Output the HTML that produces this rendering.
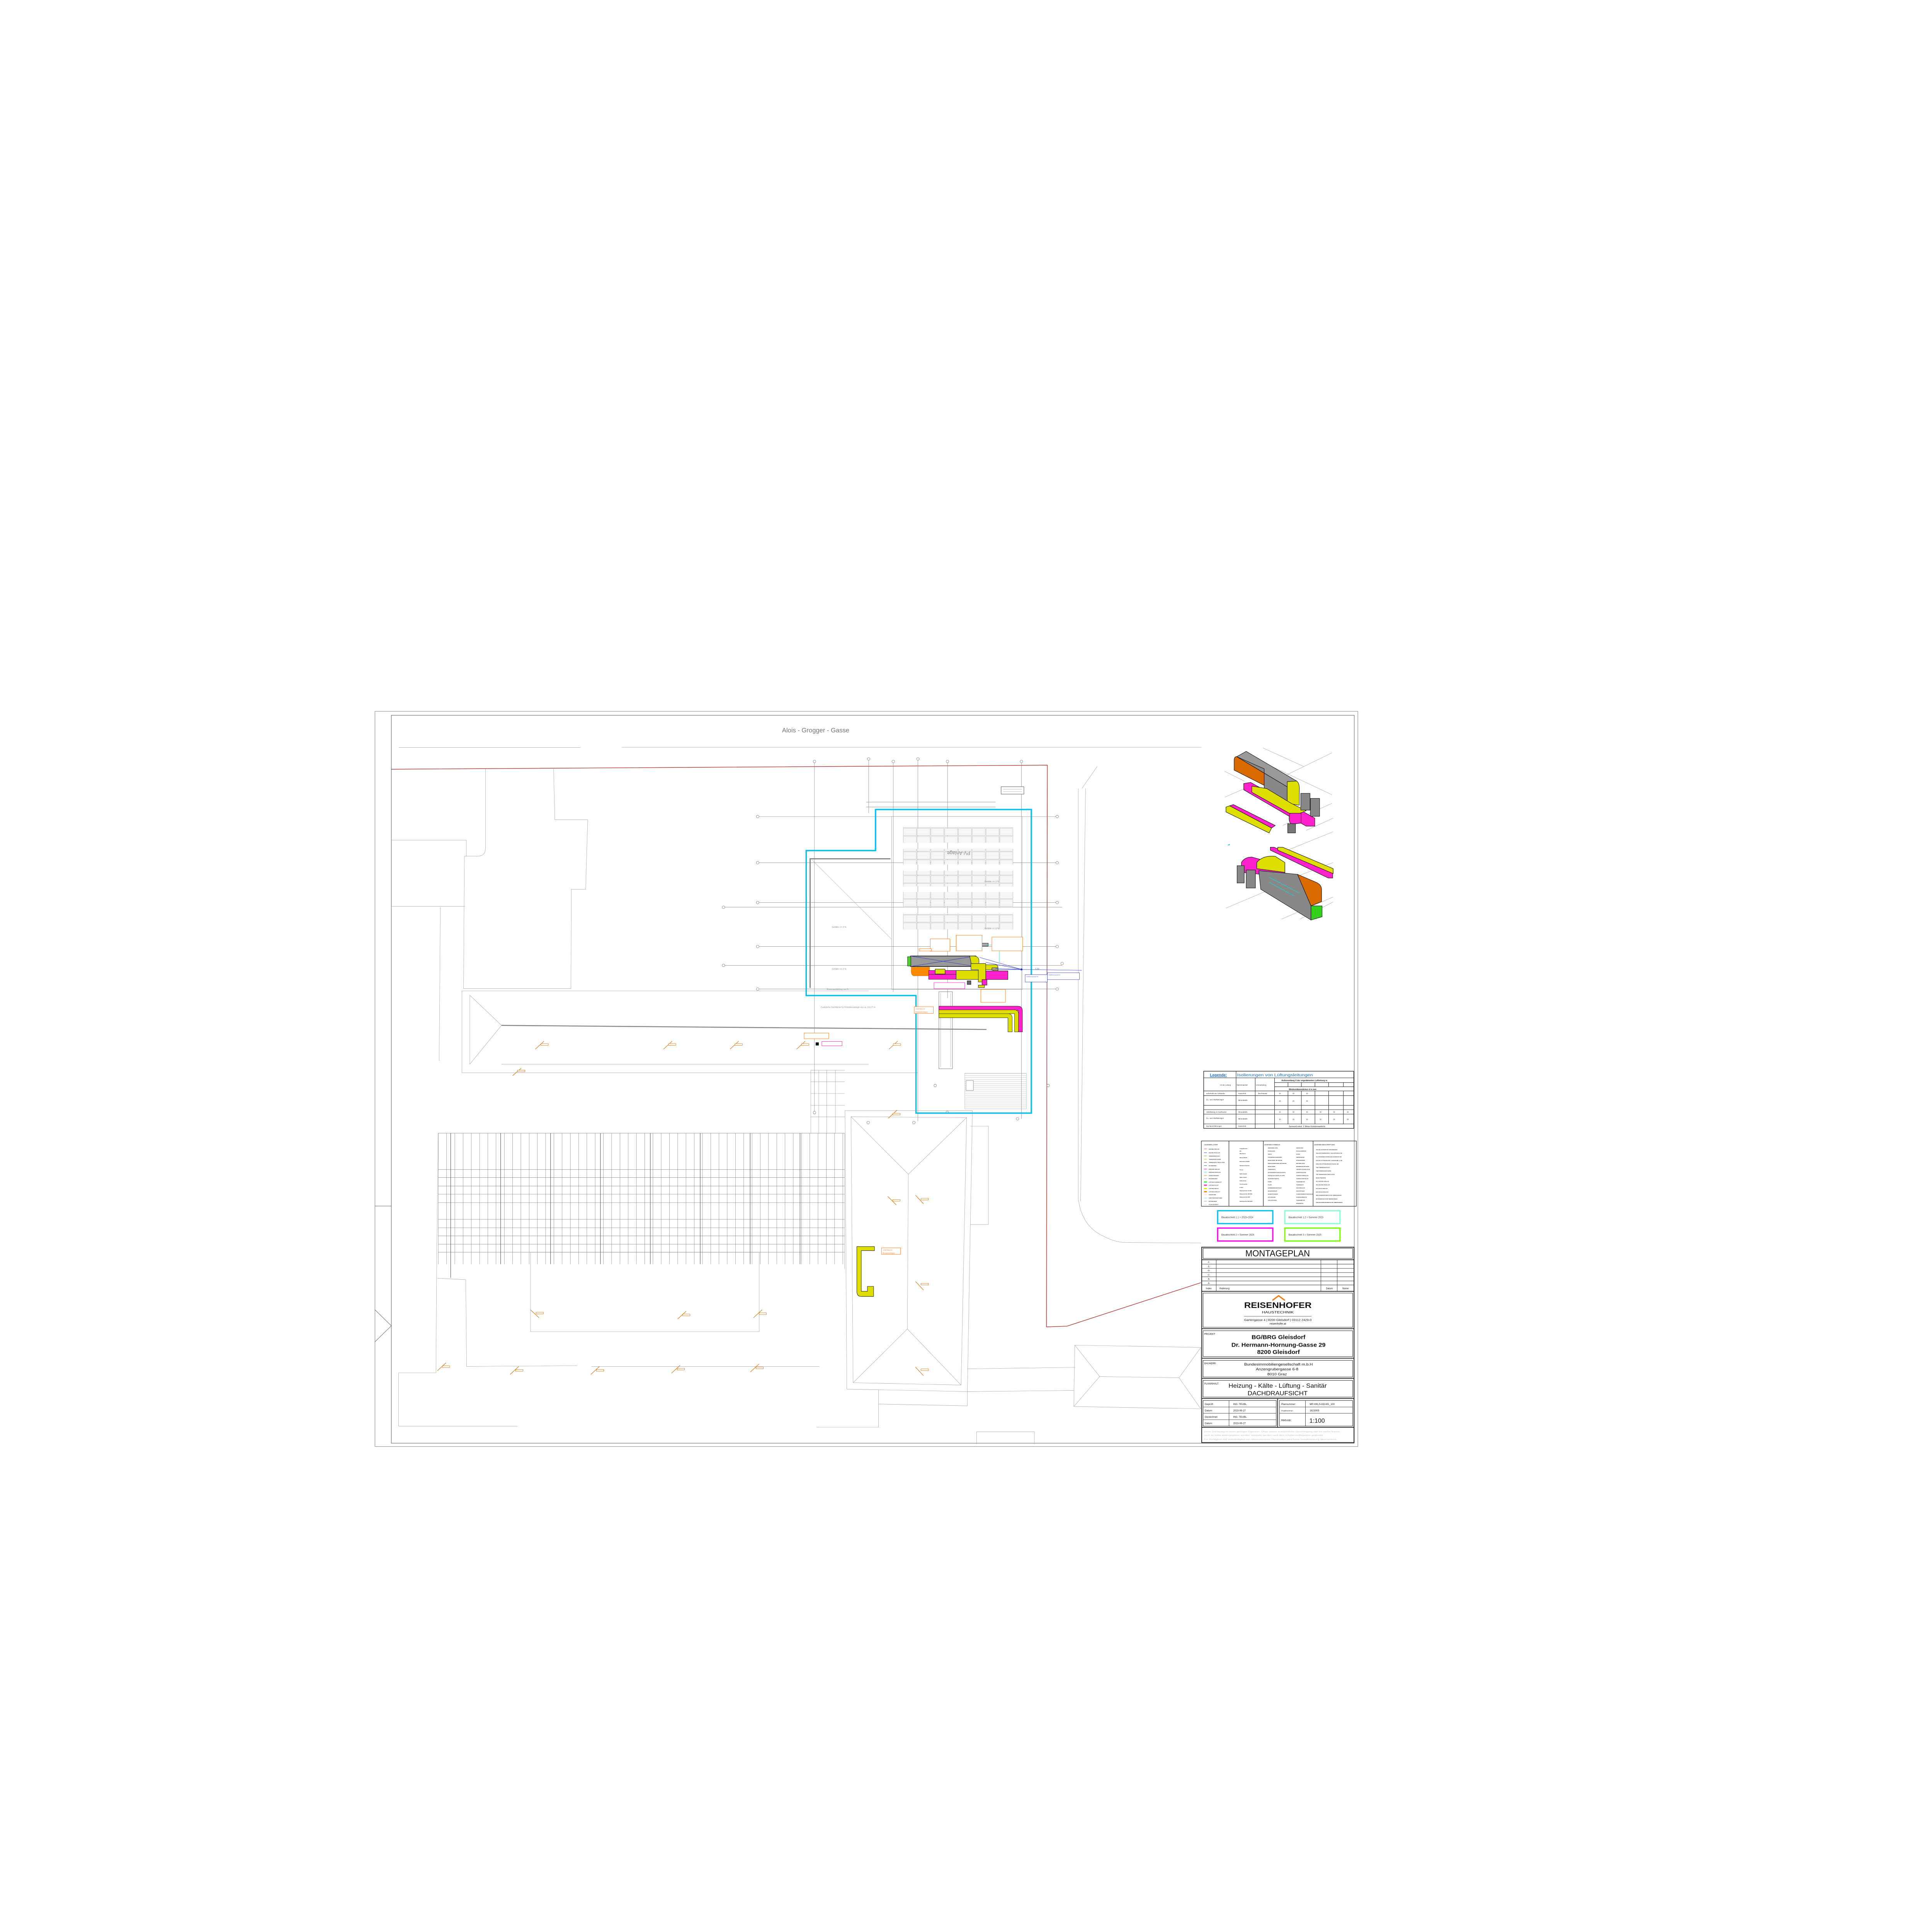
<!DOCTYPE html>
<html><head><meta charset="utf-8"><style>
html,body{margin:0;padding:0;background:#fff;overflow:hidden;width:100vw;height:100vh}
svg{display:block;position:fixed;left:0;top:0;width:100vw;height:100vh}
text{font-family:"Liberation Sans",sans-serif}
</style></head><body>
<svg viewBox="0 0 1568 1568" preserveAspectRatio="none" xmlns="http://www.w3.org/2000/svg">
<defs>
<pattern id="pv" x="732.8" y="0" width="11.19" height="6.4" patternUnits="userSpaceOnUse">
<rect x="0.3" y="0.3" width="10.6" height="5.8" fill="#fff" stroke="#999" stroke-width="0.18"/>
<path d="M0.3 1.3H10.9M0.3 2.3H10.9M0.3 3.3H10.9M0.3 4.3H10.9M0.3 5.3H10.9" stroke="#bbb" stroke-width="0.12"/>
</pattern>
<pattern id="gridv" x="355.6" y="0" width="6.7" height="10" patternUnits="userSpaceOnUse">
<path d="M0.1 0V10" stroke="#777" stroke-width="0.22"/>
</pattern>
<pattern id="stripes" x="0" y="871" width="10" height="1.6" patternUnits="userSpaceOnUse">
<path d="M0 0.2H10" stroke="#aaa" stroke-width="0.15"/>
</pattern>
</defs>
<rect width="1568" height="1568" fill="#fff"/>
<rect x="304.3" y="577.3" width="797.7" height="596.7" fill="none" stroke="#888" stroke-width="0.35"/>
<rect x="317.6" y="580.5" width="781.5" height="590.8" fill="none" stroke="#444" stroke-width="0.3"/>
<path d="M304.3 978.8H317.6M304.3 1063L317.6 1076L304.3 1089" fill="none" stroke="#444" stroke-width="0.25"/>

<text x="662" y="594.5" font-size="5.2" fill="#777" text-anchor="middle">Alois - Grogger - Gasse</text>

<g fill="none" stroke="#999" stroke-width="0.22">
<path d="M323.5 606.7H471M504.5 606.5H975"/>
<path d="M394 624V688.4Q394 694.9 387.7 694.9H376.9L376.2 802.3H463.4L463.7 721.7H475.3L477 665.3H450.3L449.3 624"/>
<path d="M317.9 681.8H378.5V694.9"/>
<path d="M357.4 736.3L356.4 861M317.9 735.5H377.4"/>
<path d="M374.9 804.2H705M374.9 804.2V870.6H745"/>
<path d="M381.3 807.7L407 832.2L381.3 863.7Z"/>
<path d="M407 863.7H705"/>
<path d="M430.6 1016.3H616.2V1080.8H430.6Z"/>
<path d="M354.9 1037.4L378 1038.6L378.7 1109L468.6 1108.4M354.3 1037.4L353.8 1114.2H323.5V1157.5M355.6 919.7L354.3 1037.4"/>
<path d="M480 1109H665M323.5 1157.5H420M685.5 919.7V1030"/>
<path d="M685.8 901.3L789.2 901.4L785.1 1129.4L687.3 1127.4Z"/>
<path d="M690.7 906.3L784.5 907L780 1124.1L692.4 1122.2Z"/>
<path d="M690.7 906.3L737.2 953L784.5 907M737.2 953L736.4 1078.6M692.4 1122.2L736.4 1078.6L780 1124.1"/>
<path d="M713 1128V1158.3H662.8M713 1139.5L785.1 1141V1129.4"/>
<path d="M787.5 914H802.2V993.8H787.5"/>
<path d="M785.1 1111L872.3 1109.7M785.1 1129.4L871.5 1128.5"/>
<path d="M872.3 1091.7L974.6 1093.6V1143.4L871.5 1141.5Z"/>
<path d="M872.3 1091.7L892.5 1117.2L871.5 1141.5M892.5 1117.2L956.9 1118.2L974.6 1093.6M956.9 1118.2L974.6 1143.4"/>
<path d="M792.6 1172V1162H839.5V1172"/>
<path d="M875.2 640V973.2Q878 995 895 1003Q905 1008.4 913.5 1008.4L974.6 1008.8M878 640L890.5 622"/>
<path d="M881 640L877 975"/>
<path d="M658 868.6H685.5M658 878H685.5M658 887.5H685.5M658 897H685.5M658 906.5H685.5M658 868.6V919.7M664.5 868.6V919.7M671 868.6V919.7M678 868.6V919.7"/>
</g>
<rect x="355.6" y="919.7" width="329.9" height="106.3" fill="url(#gridv)"/>
<g stroke="#777" stroke-width="0.22">
<path d="M355.6 919.7H685.5M355.6 949.2H685.5M355.6 955.7H685.5M355.6 962.6H685.5M355.6 969.2H685.5M355.6 976.1H685.5M355.6 989.5H685.5M355.6 996.4H685.5M355.6 1003H685.5M355.6 1009.8H685.5M355.6 1016.3H685.5"/>
</g>
<g stroke="#555" stroke-width="0.35">
<path d="M365.8 919.7V1037M406.3 919.7V1026M446.8 919.7V1026M487.3 919.7V1026M527.8 919.7V1026M568.3 919.7V1026M608.8 919.7V1026M649.3 919.7V1026"/>
</g>

<path d="M317.6 624.3L850 621L849.3 1076.9L866 1076.3L974.6 1041" fill="none" stroke="#b03030" stroke-width="0.45"/>

<g fill="none" stroke="#777" stroke-width="0.22">
<path d="M614.9 662.7H858M614.9 700.2H858M614.9 732.5H858M614.9 768.2H858M614.9 802.7H858M587.2 736.3H862M587.2 783.5H862"/>
<path d="M661 617.4V903.2M705 616V660M725 618V805M745 616V910M769 618V810M829 618V908"/>
<path d="M703 651H808M703 655H808"/>
</g>
<g fill="#fff" stroke="#777" stroke-width="0.25">
<circle cx="614.9" cy="662.7" r="1.1"/><circle cx="614.9" cy="700.2" r="1.1"/><circle cx="614.9" cy="732.5" r="1.1"/><circle cx="614.9" cy="768.2" r="1.1"/><circle cx="614.9" cy="802.7" r="1.1"/>
<circle cx="858" cy="662.7" r="1.1"/><circle cx="858" cy="700.2" r="1.1"/><circle cx="858" cy="732.5" r="1.1"/><circle cx="858" cy="768.2" r="1.1"/><circle cx="858" cy="802.7" r="1.1"/>
<circle cx="587.2" cy="736.3" r="1.1"/><circle cx="587.2" cy="783.5" r="1.1"/><circle cx="862" cy="782" r="1.1"/>
<circle cx="661" cy="618" r="1.1"/><circle cx="705" cy="616" r="1.1"/><circle cx="725" cy="618" r="1.1"/><circle cx="745" cy="616" r="1.1"/><circle cx="769" cy="618" r="1.1"/><circle cx="829" cy="618" r="1.1"/>
<circle cx="661" cy="903" r="1.1"/><circle cx="704.6" cy="911.1" r="1.1"/><circle cx="741.7" cy="911.1" r="1.1"/><circle cx="768.8" cy="902.8" r="1.1"/><circle cx="825.8" cy="908" r="1.1"/><circle cx="850.7" cy="881" r="1.1"/><circle cx="759" cy="881" r="1.1"/>
</g>
<rect x="812.5" y="638.5" width="18.5" height="6" fill="#fff" stroke="#777" stroke-width="0.4"/>
<path d="M814 640.5H829.5M814 642.5H829.5" stroke="#bbb" stroke-width="0.3"/>

<rect x="723.6" y="662.6" width="106.2" height="140.4" fill="none" stroke="#aaa" stroke-width="0.25"/>
<rect x="732.8" y="671.3" width="89.5" height="12.6" fill="url(#pv)"/>
<rect x="732.8" y="688.9" width="89.5" height="12.8" fill="url(#pv)"/>
<rect x="732.8" y="706.5" width="89.5" height="12.8" fill="url(#pv)"/>
<rect x="732.8" y="723.9" width="89.5" height="12.8" fill="url(#pv)"/>
<rect x="732.8" y="741.5" width="89.5" height="12.8" fill="url(#pv)"/>
<text x="778" y="694" font-size="4" fill="#888" text-anchor="middle" transform="rotate(180 778 692.5)">PV-Anlage</text>
<path d="M722.7 697H657.5V801.8" fill="none" stroke="#888" stroke-width="1"/>
<path d="M659.2 698L723.6 762.3" stroke="#999" stroke-width="0.18"/>
<path d="M407 832.2L800.6 835.5" stroke="#888" stroke-width="0.8"/>
<text x="681" y="753" font-size="1.8" fill="#888" text-anchor="middle">Gefälle &gt;= 3 %</text>
<text x="681" y="787" font-size="1.8" fill="#888" text-anchor="middle">Gefälle &gt;= 3 %</text>
<text x="805" y="716" font-size="1.8" fill="#888" text-anchor="middle">Gefälle &gt;= 3 %</text>
<text x="805" y="754" font-size="1.8" fill="#888" text-anchor="middle">Gefälle &gt;= 3 %</text>
<text x="671" y="803.5" font-size="1.6" fill="#888">Rinnenausbildung neu %</text>
<text x="666" y="818" font-size="1.6" fill="#888">Zusätzliche Dachfläche für Retentionsanlage neu ca. 153,77 m</text>
<rect x="762" y="804.9" width="11" height="62.5" fill="none" stroke="#777" stroke-width="0.3"/>
<path d="M763.5 806V866M771.5 806V866" stroke="#999" stroke-width="0.2"/>
<rect x="783" y="871" width="50" height="29" fill="url(#stripes)" stroke="#aaa" stroke-width="0.2"/>
<rect x="784" y="877" width="6" height="8" fill="#fff" stroke="#777" stroke-width="0.25"/>

<path d="M654.3 690.3H710.6V657H837V903.4H743.4V808H654.3Z" fill="none" stroke="#00bff3" stroke-width="1.1"/>

<rect x="739" y="775.9" width="53" height="8.5" fill="#999" stroke="#111" stroke-width="0.5"/>
<path d="M739 775.9L792 784.4M739 784.4L792 775.9" stroke="#2233cc" stroke-width="0.25"/>
<rect x="736.6" y="776.5" width="2.6" height="7.5" fill="#4fd12a" stroke="#111" stroke-width="0.3"/>
<path d="M787 775.9H790Q794.5 775.9 794.5 780V786H789Z" fill="#dede00" stroke="#111" stroke-width="0.3"/>
<path d="M739.5 784.9H754.5V792H742Q739.5 792 739.5 788Z" fill="#ff8800" stroke="#cc6600" stroke-width="0.2"/>
<rect x="753.7" y="787.6" width="44" height="3.2" fill="#ff22cc" stroke="#111" stroke-width="0.25"/>
<rect x="753.7" y="790.8" width="34" height="4" fill="#ff22cc" stroke="#111" stroke-width="0.25"/>
<rect x="759" y="786.5" width="8" height="4" fill="#dede00" stroke="#111" stroke-width="0.3"/>
<rect x="776" y="787.6" width="22" height="7.3" fill="#dede00" stroke="#111" stroke-width="0.3"/>
<path d="M788 782H800V797H794V787H788Z" fill="#dede00" stroke="#111" stroke-width="0.3"/>
<path d="M800 783H808Q810 783 810 786V792H806V787H800Z" fill="#dede00" stroke="#111" stroke-width="0.3"/>
<path d="M800 788H818V795H800Z" fill="#ff22cc" stroke="#111" stroke-width="0.3"/>
<rect x="797" y="795" width="4" height="4.5" fill="#ff22cc" stroke="#111" stroke-width="0.3"/>
<rect x="785" y="796" width="3" height="3" fill="#666" stroke="#111" stroke-width="0.3"/>
<rect x="794" y="799.5" width="5" height="2" fill="#dede00" stroke="#111" stroke-width="0.3"/>
<rect x="796" y="765.5" width="6" height="2.4" fill="#aaa" stroke="#111" stroke-width="0.3"/>
<rect x="805" y="765.5" width="6" height="2.4" fill="#aaa" stroke="#111" stroke-width="0.3"/>
<rect x="805" y="785.5" width="5" height="1.8" fill="#aaa" stroke="#111" stroke-width="0.3"/>
<path d="M795 777L829 786.8M800 781L829 786.8M810 787L829 786.8M808 786L829 786.8L878 787.5" stroke="#2233cc" stroke-width="0.25" fill="none"/>
<path d="M800 767H811V781" stroke="#00e5ee" stroke-width="0.25" fill="none"/>
<circle cx="829" cy="786.8" r="0.8" fill="#2233cc"/>
<rect x="832" y="791" width="18" height="6" fill="#fff" stroke="#2233cc" stroke-width="0.25"/>
<rect x="850" y="789.5" width="26" height="5.5" fill="#fff" stroke="#2233cc" stroke-width="0.25"/>
<text x="833" y="793" font-size="0.9" fill="#2233cc">Schallleistungspegel bei</text>
<text x="851" y="791.5" font-size="0.9" fill="#2233cc">Schallleistungspegel bei</text>
<text x="840" y="787" font-size="1.8" fill="#2233cc">7,22</text>
<g fill="#fff" stroke="#ff7a1a" stroke-width="0.3">
<rect x="755" y="762" width="16" height="10"/><rect x="776" y="759" width="21" height="12.7"/><rect x="805" y="760.5" width="25" height="11.2"/>
<rect x="746" y="770" width="10" height="1.8"/><rect x="796" y="803" width="20" height="10.5"/>
<rect x="742" y="817" width="15.5" height="5.5"/><rect x="715.4" y="1012.7" width="15.5" height="5.3"/>
<rect x="652.6" y="838.4" width="20" height="4.6"/>
</g>
<g font-size="1.3" fill="#ff7a1a">
<text x="743" y="819.3">Anschluss an</text><text x="743" y="821.8">Bestandsanlagen</text>
<text x="716.4" y="1015">Anschluss an</text><text x="716.4" y="1017.4">Bestandsanlagen</text>
</g>
<rect x="758" y="797.5" width="25" height="5" fill="#fff" stroke="#ff22cc" stroke-width="0.3"/>
<rect x="662" y="846" width="2.5" height="2.5" fill="#111"/>
<rect x="667" y="845.3" width="16.4" height="3.5" fill="#fff" stroke="#ff22cc" stroke-width="0.3"/>
<g stroke="#111" stroke-width="0.25">
<path d="M762 816.6H826Q829.8 816.6 829.8 820.5V837.5H826.6V820H762Z" fill="#ff22cc"/>
<path d="M762 819.6H823Q826.6 819.6 826.6 823V837.5H823.4V822.7H762Z" fill="#dede00"/>
<path d="M762 822.7H818Q821.5 822.7 821.5 826.5V837.5H818V826H762Z" fill="#dede00"/>
</g>
<path d="M695.4 1011.7H709.7V1015H699V1048H704V1044H709V1052.2H699Q695.4 1052.2 695.4 1048Z" fill="#dede00" stroke="#111" stroke-width="0.3"/>
<g stroke="#d86b00" stroke-width="0.35" fill="none">
<path d="M434.5 851.5l7-6.5M416 873l7-6M538.5 851.5l7-6.5M592.5 851.5l7-6.5M646.5 851.5l7-6.5M721.5 851.5l7-6.5M430.5 1063l7 6.5M550 1070.5l7-6.5M611.5 1069.5l7-6.5M355 1112.5l7-6.5M414 1115.5l7-6.5M479.5 1115.5l7-6.5M545 1114.5l7-6.5M609 1113.5l7-6.5M721 907.5l7-6.5M720.5 971l7 7M743 970l6.5 7M743 1040l6.5 7M743 1109.5l6.5 7"/>
</g>
<g fill="#fff" stroke="#d86b00" stroke-width="0.25">
<rect x="439" y="847" width="6" height="1.4"/><rect x="420" y="868.5" width="6" height="1.4"/><rect x="542.5" y="847" width="6" height="1.4"/><rect x="596.5" y="847" width="6" height="1.4"/><rect x="650.5" y="847" width="6" height="1.4"/><rect x="725" y="847" width="6" height="1.4"/>
<rect x="435" y="1065" width="6" height="1.4"/><rect x="554" y="1066.5" width="6" height="1.4"/><rect x="616" y="1065.5" width="6" height="1.4"/><rect x="359" y="1108.5" width="6" height="1.4"/><rect x="418.5" y="1111.5" width="6" height="1.4"/><rect x="484" y="1111.5" width="6" height="1.4"/><rect x="549.5" y="1110.5" width="6" height="1.4"/><rect x="613.5" y="1109.5" width="6" height="1.4"/>
<rect x="724.5" y="903.5" width="6" height="1.4"/><rect x="724.5" y="973.5" width="6" height="1.4"/><rect x="747.5" y="972.5" width="6" height="1.4"/><rect x="747.5" y="1041.5" width="6" height="1.4"/><rect x="747.5" y="1111" width="6" height="1.4"/>
</g>

<g stroke="#999" stroke-width="0.22" fill="none">
<path d="M1025 607L1058 622M1042 630L1081 611M994 626L1010 634M994 647L1010 640M1041 670L1081 652M1060 674L1082 664M1030 621L1081 645"/>
<path d="M995 737L1040 718M1040 746L1082 728M1055 746L1082 732M1045 690L1082 675M1035 718L1082 700"/>
</g>
<g stroke="#111" stroke-width="0.35">
<path d="M1001.6 617Q1001.6 614 1004 614L1026 624V637.4L1001.6 625Z" fill="#d96a00"/>
<path d="M1003.7 614.1L1011.4 609.8L1052.4 633.9L1044.7 638.6Z" fill="#999"/>
<path d="M1003.7 614.1L1044.7 638.6V652L1026 641L1026 624L1003.7 614.1Z" fill="#888"/>
<path d="M1044.7 634.4L1052.4 633.9Q1055 636 1054.5 642V653.5L1044.7 652Z" fill="#dede00"/>
<path d="M1009.4 635.9L1015 635L1067.1 664L1067.1 670.5L1060 670.5L1009.4 641Z" fill="#ff22cc"/>
<path d="M1016 638L1028 640L1048 652L1060 658L1050 662L1016 643Z" fill="#dede00"/>
<path d="M1047 660Q1045 666 1048 669L1056 668L1056 660Z" fill="#ff22cc"/>
<rect x="1055.7" y="643.9" width="7.5" height="13.6" fill="#888"/>
<rect x="1063.5" y="648" width="7.5" height="14.5" fill="#888"/>
<rect x="1045.1" y="668.5" width="6.3" height="7.5" fill="#777"/>
<path d="M995 655L998 654L1032 672L1030 676L995 659Z" fill="#dede00"/>
<path d="M998 654L1001 653L1035 670L1032 672Z" fill="#ff22cc"/>
<path d="M1031 687.6L1034 687.6L1081.6 708L1081.6 712.6L1078 712.6L1031 690Z" fill="#ff22cc"/>
<path d="M1037 687.6L1041 687.6L1082 705V709L1037 690Z" fill="#dede00"/>
<path d="M1007.5 700Q1010 695.6 1016 695.6L1042.8 703L1042.8 711.6L1007.5 708Z" fill="#ff22cc"/>
<path d="M1020 700Q1025 694 1035 695L1042.8 700L1042.8 708L1020 705Z" fill="#dede00"/>
<rect x="1004" y="702.6" width="5.8" height="14" fill="#888"/>
<rect x="1011.4" y="706.1" width="7.5" height="14.6" fill="#888"/>
<path d="M1021.6 706.6L1053 709.6L1064 735.2V746.7L1023.2 721.7Z" fill="#888"/>
<path d="M1053 709.6L1068 716Q1072.6 718 1072.6 722V731.7L1064 735.2Z" fill="#d96a00"/>
<path d="M1064 735.2L1073 735.2V744L1064 746.7Z" fill="#33d11a"/>
<path d="M1030 712L1055 725M1030 716L1050 727" stroke="#00e5ee" stroke-width="0.3" fill="none"/>
</g>
<path d="M996 686l2-1v1z" fill="#1ab0e8"/>

<g fill="none" stroke="#111" stroke-width="0.3">
<rect x="976.9" y="869.4" width="121.8" height="46.4" stroke-width="0.4"/>
<path d="M976.9 874.8H1098.7M976.9 885.4H1098.7M976.9 889.2H1098.7M976.9 897.1H1098.7M976.9 900.6H1098.7M976.9 904.2H1098.7M976.9 912.2H1098.7"/>
<path d="M1003.2 869.4V915.8M1018.7 874.8V915.8M1034.4 874.8V915.8M1034.4 878.6H1098.7M1034.4 882H1098.7"/>
<path d="M1045.3 878.6V882M1056.2 878.6V882M1067.2 878.6V882M1078.3 878.6V882M1090.3 878.6V882M1045.3 885.4V912.2M1056.2 885.4V912.2M1067.2 885.4V912.2M1078.3 885.4V912.2M1090.3 885.4V912.2"/>
</g>
<text x="982" y="873.5" font-size="3.1" font-weight="bold" fill="#1a6fc8" text-decoration="underline">Legende:</text>
<text x="1004" y="873.5" font-size="3.1" fill="#1a6fc8" textLength="61.5" lengthAdjust="spacingAndGlyphs">Isolierungen von Lüftungsleitungen</text>
<g font-size="1.35" fill="#222">
<text x="990" y="881">Art der Leitung</text><text x="1003.7" y="881">Dämmmaterial</text><text x="1019.3" y="881">Ummantelung</text>
<text x="1040" y="877.5" font-weight="bold" font-size="1.6">Außenumfang U der ungedämmten Luftleitung m</text>
<text x="1046" y="884.6" font-weight="bold" font-size="1.6">Mindestdämmdicken d in mm</text>
<text x="979" y="888">außerhalb des Gebäudes</text><text x="1005" y="888">Kautschuk</text><text x="1021" y="888">Blechmantel</text>
<text x="979" y="893">Zu,- und Abluftleitungen</text><text x="1005" y="893.5">Mineralwolle</text>
<text x="979" y="903">Abluftleitung im Dachboden</text><text x="1005" y="903">Mineralwolle</text>
<text x="979" y="908">Zu,- und Abluftleitungen</text><text x="1005" y="908.5">Mineralwolle</text>
<text x="979" y="914.5">Dachdurchführungen</text><text x="1005" y="914.5">Kautschuk</text>
<text x="1046" y="914.8" font-size="1.7">Generell mind. 1 Meter Kondensatdicht</text>
<text x="1038" y="888">30</text><text x="1049" y="888">30</text><text x="1060" y="888">30</text>
<text x="1038" y="894">20</text><text x="1049" y="894">20</text><text x="1060" y="894">30</text>
<text x="1038" y="903">30</text><text x="1049" y="903">30</text><text x="1060" y="903">30</text><text x="1071" y="903">30</text><text x="1082" y="903">30</text><text x="1093" y="903">30</text>
<text x="1038" y="909">30</text><text x="1049" y="909">30</text><text x="1060" y="909">30</text><text x="1071" y="909">30</text><text x="1082" y="909">30</text><text x="1093" y="909">30</text>
</g>
<g fill="none" stroke="#111" stroke-width="0.35">
<rect x="975" y="926" width="125.8" height="53"/>
<path d="M997.4 926V979M1025.3 926V979M1065.7 926V979"/>
</g>
<g font-size="1.3" fill="#111">
<text x="977.5" y="929.5">LEGENDE LAYER:</text><text x="1026" y="929.5">LEGENDE SYMBOLE:</text><text x="1066.5" y="929.5">LEGENDE BESCHRIFTUNG:</text>
</g>
<g stroke-width="0.3">
<path d="M977.2 932.5h2.3" stroke="#ff5555"/><path d="M977.2 935.5h2.3" stroke="#2233cc"/><path d="M977.2 938.2h2.3" stroke="#22cc22"/><path d="M977.2 940.8h2.3" stroke="#ff8800"/><path d="M977.2 943.4h2.3" stroke="#992299"/><path d="M977.2 946h2.3" stroke="#118811"/><path d="M977.2 948.8h2.3" stroke="#cc00ff"/><path d="M977.2 951.3h2.3" stroke="#00e5ee"/><path d="M977.2 954h2.3" stroke="#ff6600"/><path d="M977.2 956.6h2.3" stroke="#8888ff"/>
<path d="M977.2 959.3h2.3" stroke="#22ee22" stroke-width="0.9"/><path d="M977.2 961.9h2.3" stroke="#ff22cc" stroke-width="0.9"/><path d="M977.2 964.6h2.3" stroke="#dede00" stroke-width="0.9"/><path d="M977.2 967.2h2.3" stroke="#ff7700" stroke-width="0.9"/>
<path d="M977.2 969.6h2.3" stroke="#ffcc55"/><path d="M977.2 972.3h2.3" stroke="#55eeee"/><path d="M977.2 974.9h2.3" stroke="#ff66cc"/><path d="M977.2 977.5h2.3" stroke="#cccccc"/>
</g>
<g font-size="0.9" fill="#111" font-weight="bold">
<text x="981" y="932.9">HEIZUNG VORLAUF</text><text x="981" y="935.9">HEIZUNG RÜCKLAUF</text><text x="981" y="938.6">TRINKWASSER KALT</text><text x="981" y="941.2">TRINKWASSER WARM</text><text x="981" y="943.8">TRINKWASSER ZIRKULATION</text><text x="981" y="946.4">NUTZWASSER</text><text x="981" y="949.2">KÜHLUNG VORLAUF</text><text x="981" y="951.7">KÜHLUNG RÜCKLAUF</text><text x="981" y="954.4">SCHMUTZWASSER</text><text x="981" y="957">REGENWASSER</text><text x="981" y="959.7">LÜFTUNG AUSSENLUFT</text><text x="981" y="962.3">LÜFTUNG ZULUFT</text><text x="981" y="965">LÜFTUNG ABLUFT</text><text x="981" y="967.6">LÜFTUNG FORTLUFT</text><text x="981" y="970">GASLEITUNG</text><text x="981" y="972.7">SANITÄRGEGENSTÄNDE</text><text x="981" y="975.3">BAUANGABEN</text><text x="981" y="977.9">PLAN ARCHITEKT</text>
<text x="1006" y="932.5">Ausgußbecken</text><text x="1006" y="934.5">WC</text><text x="1006" y="936.5">Waschtisch</text><text x="1006" y="939.8">Wanne 180x75</text><text x="1006" y="943">Brausetasse 80x80</text><text x="1006" y="946.3">Handwaschbecken</text><text x="1006" y="949.8">Pissoir</text><text x="1006" y="953">Spüle doppelt</text><text x="1006" y="955.9">Spüle einfach</text><text x="1006" y="958.6">Kühlschrank</text><text x="1006" y="961.3">Geschirrspüler</text><text x="1006" y="964">E-Herd</text><text x="1006" y="966.7">Hängespeicher 50-200l.</text><text x="1006" y="969.3">Hängespeicher 200,300l.</text><text x="1006" y="971.8">Hängespeicher 500l.</text><text x="1006" y="975.3">Standspeicher 800,1000l</text>
<text x="1029" y="932">ABSPERRKLAPPE</text><text x="1029" y="934.5">KUGELHAHN</text><text x="1029" y="937">VENTIL</text><text x="1029" y="939.5">STRANGREGULIERVENTIL</text><text x="1029" y="942">REGELVENTIL MIT MOTOR</text><text x="1029" y="944.5">DURCHGANGSVENTIL MIT MOTOR</text><text x="1029" y="947">REGELVENTIL</text><text x="1029" y="949.5">ZONENVENTIL</text><text x="1029" y="952">DIFFERENZDRUCKREGELVENTIL</text><text x="1029" y="954.5">RÜCKSCHLAGVENTIL/-KLAPPE</text><text x="1029" y="957">SICHERHEITSVENTIL</text><text x="1029" y="959.5">PUMPE</text><text x="1029" y="962">FILTER</text><text x="1029" y="964.5">WÄRMEMENGENZÄHLER</text><text x="1029" y="967">WASSERZÄHLER</text><text x="1029" y="969.5">SCHMUTZFÄNGER</text><text x="1029" y="972">ENTLEERUNG</text><text x="1029" y="974.5">AUSLAUFVENTIL</text>
<text x="1052" y="932">VENTILATOR</text><text x="1052" y="934.5">SCHALLDÄMPFER</text><text x="1052" y="937">FILTER</text><text x="1052" y="939.5">HEIZREGISTER</text><text x="1052" y="942">KÜHLREGISTER</text><text x="1052" y="944.5">MOTORKLAPPE</text><text x="1052" y="947">BRANDSCHUTZKLAPPE</text><text x="1052" y="949.5">UNTERPUTZVENTILATOR</text><text x="1052" y="952">DURSTRAHLDÜSE</text><text x="1052" y="954.5">TEMPERATURREGLER</text><text x="1052" y="957">TEMPERATURFÜHLER</text><text x="1052" y="959.5">THERMOMETER</text><text x="1052" y="962">THERMOSTAT</text><text x="1052" y="964.5">DRUCKREGLER</text><text x="1052" y="967">DRUCKFÜHLER</text><text x="1052" y="969.5">AUSSENTEMPERATURFÜHLER</text><text x="1052" y="972">RAUMTHERMOSTAT</text><text x="1052" y="974.5">THERMOMETER</text><text x="1052" y="977">MANOMETER</text>
<text x="1068" y="933.5">ARø ABLAUFROHR MIT DURCHMESSER</text><text x="1068" y="936.3">ABø AUFSTANDSBODEN F. ABLAUFROHR M. DM.</text><text x="1068" y="939.3">ÜLø STRANGBELÜFTUNG ABLAUFROHR M. DM.</text><text x="1068" y="942.2">ERø ENTLÜFTUNGSROHR F. NASSRÄUME m. DM.</text><text x="1068" y="945">ERKø ENTLÜFTUNGSROHR KÜCHE M. DM.</text><text x="1068" y="947.8">TWK TRINKWASSER KALT</text><text x="1068" y="950.6">TWW TRINKWASSER WARM</text><text x="1068" y="953.5">TWZ TRINKWASSER ZIRKULATION</text><text x="1068" y="956.3">NW NUTZWASSER</text><text x="1068" y="959.2">HVL HEIZUNG VORLAUF</text><text x="1068" y="962">HRL HEIZUNG RÜCKLAUF</text><text x="1068" y="964.9">KVL KÄLTE VORLAUF</text><text x="1068" y="967.7">KRL KÄLTE RÜCKLAUF</text><text x="1068" y="970.5">WDB WANDDURCHBRUCH MIT ABMESSUNGEN</text><text x="1068" y="973.4">WS WANDSCHLITZ MIT ABMESSUNGEN</text><text x="1068" y="976.2">DDB DECKENDURCHBRUCH MIT ABMESSUNGEN</text>
</g>
<g fill="#fff" stroke-width="1">
<rect x="988.2" y="982.6" width="44.8" height="10.5" stroke="#00bff3"/>
<rect x="1042.7" y="982.6" width="44.8" height="10.5" stroke="#88ffcc"/>
<rect x="988.2" y="996.7" width="44.8" height="10.5" stroke="#ff00ee"/>
<rect x="1042.7" y="996.7" width="44.8" height="10.5" stroke="#77ff00"/>
</g>
<g font-size="1.9" fill="#333">
<text x="991.3" y="988.6">Bauabschnitt 1.1 = 2023+2024</text>
<text x="1045.8" y="988.6">Bauabschnitt 1.2 = Sommer 2023</text>
<text x="991.3" y="1002.8">Bauabschnitt 2 = Sommer 2024</text>
<text x="1045.8" y="1002.8">Bauabschnitt 3 = Sommer 2025</text>
</g>

<g fill="none" stroke="#111">
<rect x="975.3" y="1012.2" width="123.6" height="158.6" stroke-width="0.55"/>
<rect x="976.4" y="1013.1" width="121.4" height="8.2" stroke-width="0.3"/>
<path d="M975.3 1022.4H1098.9M975.3 1048H1098.9M975.3 1078.3H1098.9M975.3 1102.3H1098.9M975.3 1118.7H1098.9M975.3 1135H1098.9M975.3 1158.4H1098.9" stroke-width="0.55"/>
<path d="M975.3 1026H1098.9M975.3 1029.4H1098.9M975.3 1032.8H1098.9M975.3 1036.2H1098.9M975.3 1039.6H1098.9M975.3 1042.9H1098.9M987.1 1022.4V1048M1072 1022.4V1048M1085.3 1022.4V1048" stroke-width="0.25"/>
<rect x="976.4" y="1049.4" width="121.4" height="27.8" stroke-width="0.3"/>
<rect x="976.4" y="1080" width="121.4" height="21" stroke-width="0.3"/>
<rect x="976.4" y="1104" width="121.4" height="13.6" stroke-width="0.3"/>
<rect x="976.4" y="1120.3" width="121.4" height="13.6" stroke-width="0.3"/>
<path d="M1036.9 1135V1158.4" stroke-width="0.55"/>
<rect x="976.4" y="1136.6" width="59.4" height="20.8" stroke-width="0.3"/>
<rect x="1038.4" y="1136.6" width="59.4" height="20.8" stroke-width="0.3"/>
<path d="M976.4 1141.9H1035.8M976.4 1147H1035.8M976.4 1152.2H1035.8M997.5 1136.6V1157.4M1038.4 1141.9H1097.8M1038.4 1147H1097.8M1059.5 1136.6V1157.4" stroke-width="0.25"/>
</g>
<text x="1036.9" y="1019.6" font-size="7.2" text-anchor="middle" fill="#111" textLength="52.4" lengthAdjust="spacingAndGlyphs">MONTAGEPLAN</text>
<g font-size="1.6" fill="#111" text-anchor="middle">
<text x="981" y="1025">-F-</text><text x="981" y="1028.4">-E-</text><text x="981" y="1031.8">-D-</text><text x="981" y="1035.2">-C-</text><text x="981" y="1038.6">-B-</text><text x="981" y="1042">-A-</text>
<text x="981" y="1046.4" font-size="1.9">Index</text><text x="1078.9" y="1046.4" font-size="1.9">Datum</text><text x="1092" y="1046.4" font-size="1.9">Name</text>
</g>
<text x="989.6" y="1046.4" font-size="1.9" fill="#111">Änderung</text>
<path d="M1032.7 1055.4L1037.7 1051.6L1042.8 1055.4" fill="none" stroke="#f07a10" stroke-width="1"/>
<text x="1037.1" y="1061.6" font-size="6.6" font-weight="bold" text-anchor="middle" fill="#111" textLength="54.7" lengthAdjust="spacingAndGlyphs">REISENHOFER</text>
<text x="1037.1" y="1066" font-size="2.6" text-anchor="middle" fill="#111" textLength="25.8" lengthAdjust="spacingAndGlyphs">HAUSTECHNIK</text>
<path d="M1009.6 1068.3H1064.5" stroke="#111" stroke-width="0.2"/>
<text x="1037.1" y="1072" font-size="2.2" text-anchor="middle" fill="#111" textLength="54.7" lengthAdjust="spacingAndGlyphs">Gartengasse 4 | 8200 Gleisdorf | 03112 2429-0</text>
<text x="1037.1" y="1075" font-size="2.2" text-anchor="middle" fill="#111">reisenhofer.at</text>
<g fill="#111" font-size="1.9">
<text x="977.4" y="1083.3">PROJEKT:</text><text x="977.4" y="1107.2">BAUHERR:</text><text x="977.4" y="1123.6">PLANINHALT:</text>
</g>
<g fill="#111" font-weight="bold" text-anchor="middle">
<text x="1037.6" y="1086.8" font-size="4.6" textLength="43.7" lengthAdjust="spacingAndGlyphs">BG/BRG Gleisdorf</text>
<text x="1037.6" y="1093" font-size="4.6" textLength="76.4" lengthAdjust="spacingAndGlyphs">Dr. Hermann-Hornung-Gasse 29</text>
<text x="1037.6" y="1098.8" font-size="4.6" textLength="34.6" lengthAdjust="spacingAndGlyphs">8200 Gleisdorf</text>
</g>
<g fill="#111" text-anchor="middle" font-size="3">
<text x="1037.6" y="1108.2" textLength="55.7" lengthAdjust="spacingAndGlyphs">Bundesimmobiliengesellschaft m.b.H</text>
<text x="1036.5" y="1112.2" textLength="34.5" lengthAdjust="spacingAndGlyphs">Anzengrubergasse 6-8</text>
<text x="1036.5" y="1116.3" textLength="15.9" lengthAdjust="spacingAndGlyphs">8010 Graz</text>
<text x="1036.9" y="1126.3" font-size="4.8" textLength="79.7" lengthAdjust="spacingAndGlyphs">Heizung - Kälte - Lüftung - Sanitär</text>
<text x="1036.9" y="1132.4" font-size="4.8" textLength="48.7" lengthAdjust="spacingAndGlyphs">DACHDRAUFSICHT</text>
</g>
<g fill="#111" font-size="2">
<text x="977.8" y="1140.2">Geprüft:</text><text x="977.8" y="1145.5">Datum:</text><text x="977.8" y="1150.6">Gezeichnet:</text><text x="977.8" y="1155.8">Datum:</text>
<text x="1000.8" y="1140.2">ING. TEUBL</text><text x="1000.8" y="1145.5">2023-06-27</text><text x="1000.8" y="1150.6">ING. TEUBL</text><text x="1000.8" y="1155.8">2023-06-27</text>
<text x="1039.8" y="1140.2">Plannummer:</text><text x="1039.8" y="1145.4" font-size="1.4">Projektnummer:</text><text x="1039.8" y="1153.2">Maßstab:</text>
<text x="1062.9" y="1140.2">MP-HKLS-DD-M1_100</text><text x="1062.9" y="1145.4">1623005</text>
<text x="1062.7" y="1154.6" font-size="5">1:100</text>
</g>
<g fill="#bbb" font-size="1.45">
<text x="977.2" y="1162.3" textLength="110" lengthAdjust="spacingAndGlyphs">Diese Zeichnung ist unser geistiges Eigentum. Ohne unsere ausdrückliche Genehmigung darf sie weder kopiert</text>
<text x="977.2" y="1165.3" textLength="97" lengthAdjust="spacingAndGlyphs">noch an Dritte weitergegeben werden. Verstöße werden nach dem Urheberrechtsgesetz geahndet.</text>
<text x="977.2" y="1168.6" textLength="108" lengthAdjust="spacingAndGlyphs">Für Richtigkeit und Vollständigkeit von übernommenen Planinhalten wird keine Gewährleistung übernommen.</text>
</g>
</svg>
</body></html>
